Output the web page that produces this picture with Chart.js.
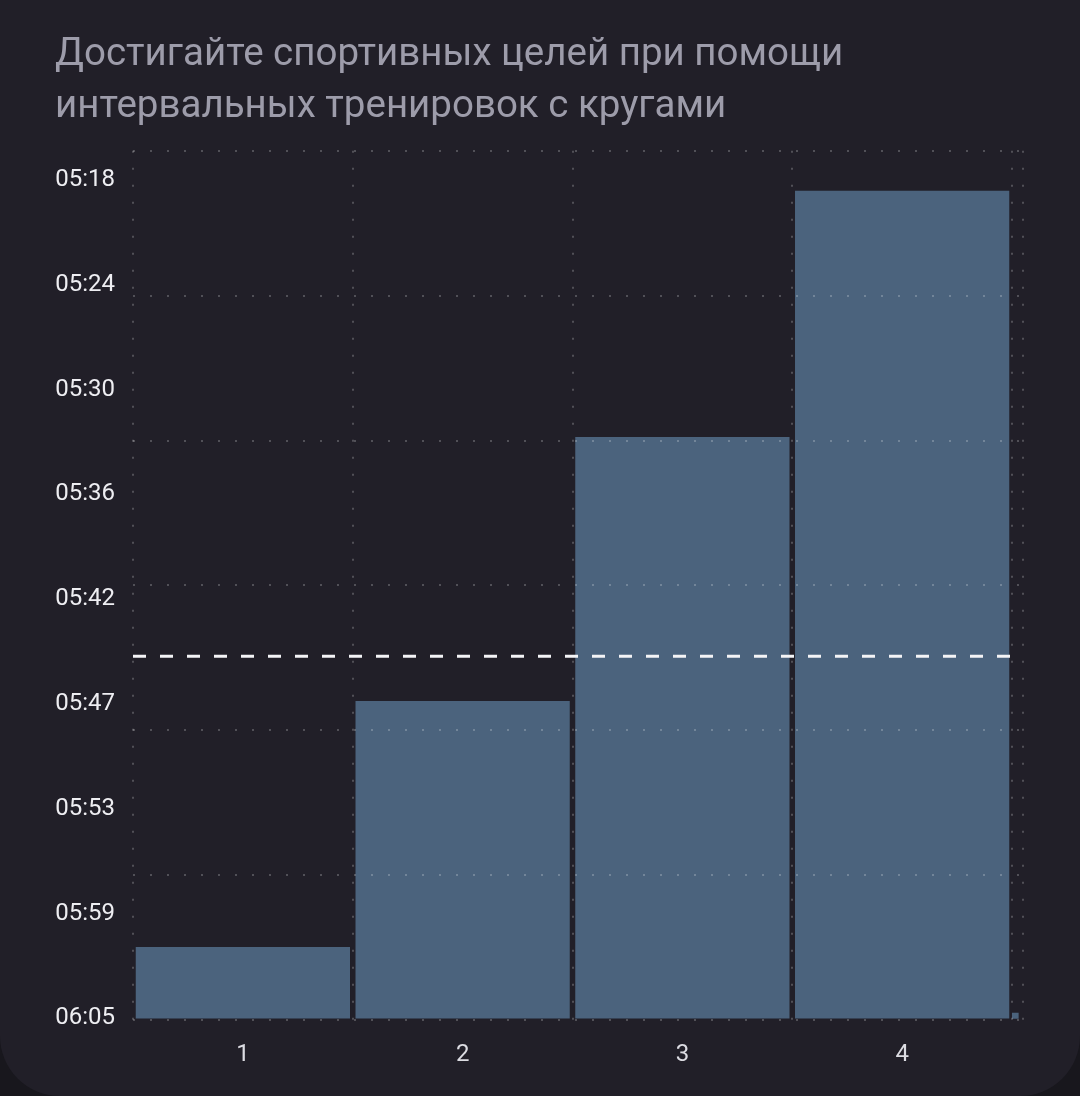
<!DOCTYPE html>
<html>
<head>
<meta charset="utf-8">
<script src="https://cdn.jsdelivr.net/npm/chart.js@4.4.1/dist/chart.umd.min.js"></script>
<style>
  html, body { margin: 0; padding: 0; background: #18171d; }
  .card { width: 1080px; height: 1096px; background: #211f28; border-radius: 0 0 60px 60px; overflow: hidden; }
  canvas { display: block; }
</style>
</head>
<body>
<div class="card"><canvas id="paceChart" width="1080" height="1096"></canvas></div>
<script>
/* data */
const titleLines = ["Достигайте спортивных целей при помощи", "интервальных тренировок с кругами"];
const lapLabels = ["1", "2", "3", "4", "5"];
const lapDistances = [1, 1, 1, 1, 0.03];                 // km
const lapPaces = [361.0, 347.2, 332.4, 318.6, 364.7];    // sec / km
const avgPace = 344.7;                                    // sec / km
const yTickLabels = ["05:18", "05:24", "05:30", "05:36", "05:42", "05:47", "05:53", "05:59", "06:05"];
const paceFast = 318;   // first tick
const paceSlow = 365;   // last tick, bars grow from here
const gridRows = 6;

/* lap positions along distance */
const lapStart = [];
let acc = 0;
lapDistances.forEach(d => { lapStart.push(acc); acc += d; });
const xMax = 4.05;

const fullLaps = lapDistances.map((d, i) => i).filter(i => lapDistances[i] >= 0.5);
const shortLaps = lapDistances.map((d, i) => i).filter(i => lapDistances[i] < 0.5);
const lapMid = i => lapStart[i] + lapDistances[i] / 2;

const gridColor = "rgba(255,255,255,0.22)";
const barColor = "#4b637d";

new Chart(document.getElementById("paceChart"), {
  data: {
    datasets: [
      {
        type: "line",
        xAxisID: "xg",
        data: [{ x: 0, y: avgPace }, { x: xMax, y: avgPace }],
        borderColor: "#f4f4f6",
        borderWidth: 3,
        borderDash: [13, 14],
        pointRadius: 0,
        order: 0
      },
      {
        type: "bar",
        xAxisID: "x",
        grouped: false,
        data: fullLaps.map(i => ({ x: lapMid(i), y: lapPaces[i] })),
        base: paceSlow,
        backgroundColor: barColor,
        categoryPercentage: 1,
        barPercentage: 0.975,
        order: 1
      },
      {
        type: "bar",
        xAxisID: "xg",
        grouped: false,
        data: shortLaps.map(i => ({ x: lapMid(i), y: lapPaces[i] })),
        base: paceSlow,
        backgroundColor: barColor,
        barThickness: 6,
        order: 2
      }
    ]
  },
  options: {
    responsive: false,
    devicePixelRatio: 1,
    animation: false,
    layout: { padding: { left: 55, right: 57, top: 0, bottom: 7 } },
    plugins: {
      legend: { display: false },
      tooltip: { enabled: false },
      title: {
        display: true,
        text: titleLines,
        align: "start",
        color: "#9d9caa",
        font: { family: "Roboto", size: 38.5, weight: "normal", lineHeight: 1.36 },
        padding: { top: 29, bottom: 17 }
      }
    },
    scales: {
      x: {
        type: "linear",
        position: "bottom",
        offset: false,
        weight: 10,
        min: 0,
        max: xMax,
        grid: { display: false, drawTicks: false, offset: false },
        border: { display: false },
        afterBuildTicks: axis => { axis.ticks = fullLaps.map(i => ({ value: lapMid(i) })); },
        ticks: {
          padding: 20,
          color: "#dcdce2",
          font: { family: "Roboto", size: 24 },
          callback: (v, idx) => lapLabels[fullLaps[idx]]
        }
      },
      xg: {
        type: "linear",
        position: "bottom",
        offset: false,
        min: 0,
        max: xMax,
        afterBuildTicks: axis => {
          axis.ticks = lapStart.filter((s, i) => lapDistances[i] >= 0.5).concat([lapStart[shortLaps[0]], xMax]).map(v => ({ value: v }));
        },
        ticks: { display: false },
        grid: { color: gridColor, lineWidth: 2, drawTicks: false, offset: false, z: 1 },
        border: { display: false, dash: [2, 15] }
      },
      y: {
        type: "linear",
        position: "left",
        weight: 10,
        reverse: true,
        min: 316.35,
        max: 365.1,
        grid: { display: false, drawTicks: false },
        border: { display: false },
        afterBuildTicks: axis => {
          const n = yTickLabels.length - 1;
          axis.ticks = yTickLabels.map((_, i) => ({ value: paceFast + i * (paceSlow - paceFast) / n }));
        },
        afterFit: axis => { axis.width = 78; },
        ticks: {
          padding: 18,
          color: "#eeeef2",
          font: { family: "Roboto", size: 24 },
          callback: (v, idx) => yTickLabels[idx]
        }
      },
      yg: {
        type: "linear",
        position: "left",
        min: 0,
        max: gridRows,
        ticks: { display: false, stepSize: 1 },
        grid: { color: gridColor, lineWidth: 2, drawTicks: false, z: 1 },
        border: { display: false, dash: [2, 15] }
      }
    }
  }
});
</script>
</body>
</html>
